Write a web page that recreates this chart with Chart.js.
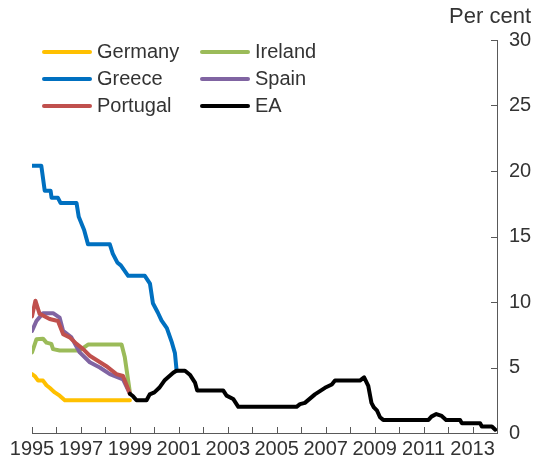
<!DOCTYPE html>
<html>
<head>
<meta charset="utf-8">
<script src="https://cdn.jsdelivr.net/npm/chart.js@4.4.0/dist/chart.umd.min.js"></script>
<style>
  html, body { margin: 0; padding: 0; background: #fff; }
  #wrap { position: relative; width: 535px; height: 468px; font-family: "Liberation Sans", Arial, sans-serif; color: #333; }
  #chart { position: absolute; left: 0; top: 0; }
  #unit { position: absolute; right: 4px; top: 3px; font-size: 22px; }
  #legend { position: absolute; left: 42px; top: 38px; display: grid; grid-template-columns: 158px auto; grid-auto-rows: 27px; font-size: 20px; }
  .item { display: flex; align-items: center; white-space: nowrap; }
  .swatch { width: 50px; height: 4px; margin-right: 5px; border-radius: 2px; }
</style>
</head>
<body>
<div id="wrap">
  <canvas id="chart" width="535" height="468"></canvas>
  <div id="unit">Per cent</div>
  <div id="legend"></div>
</div>
<script>
// Values (x = decimal year, y = per cent)
const germanyX = [1995.0, 1995.11, 1995.25, 1995.45, 1995.59, 1995.72, 1995.93, 1996.13, 1996.34, 1999.0];
const germanyY = [4.5, 4.35, 4.0, 4.0, 3.65, 3.45, 3.1, 2.85, 2.5, 2.5];

const greeceX = [1995.0, 1995.38, 1995.52, 1995.76, 1995.8, 1996.06, 1996.17, 1996.82, 1996.91, 1997.13, 1997.29,
  1998.18, 1998.3, 1998.49, 1998.63, 1998.93, 1999.61, 1999.82, 1999.94, 2000.14, 2000.29, 2000.51, 2000.7, 2000.84, 2000.91];
const greeceY = [20.4, 20.4, 18.5, 18.5, 17.95, 17.95, 17.55, 17.55, 16.5, 15.5, 14.4,
  14.4, 13.7, 13.0, 12.8, 12.0, 12.0, 11.4, 9.9, 9.2, 8.6, 8.0, 7.0, 6.1, 4.75];

const portugalX = [1995.0, 1995.14, 1995.31, 1995.72, 1996.06, 1996.27, 1996.54, 1996.82, 1997.09, 1997.36, 1997.7,
  1998.04, 1998.18, 1998.45, 1998.72, 1999.0];
const portugalY = [8.9, 10.1, 9.1, 8.7, 8.55, 7.55, 7.3, 6.8, 6.4, 5.9, 5.5, 5.1, 4.9, 4.5, 4.35, 3.0];

const irelandX = [1995.0, 1995.18, 1995.45, 1995.59, 1995.79, 1995.86, 1996.13, 1996.95, 1997.29, 1998.66, 1998.79, 1999.0];
const irelandY = [6.15, 7.15, 7.2, 6.9, 6.8, 6.4, 6.3, 6.3, 6.75, 6.75, 5.8, 3.1];

const spainX = [1995.0, 1995.18, 1995.45, 1995.86, 1996.13, 1996.27, 1996.61, 1996.95, 1997.36, 1997.77, 1998.18, 1998.72, 1999.0];
const spainY = [7.8, 8.55, 9.15, 9.15, 8.8, 7.8, 7.3, 6.15, 5.4, 5.0, 4.5, 4.1, 3.0];

const eaX = [1999.0, 1999.13, 1999.27, 1999.68, 1999.81, 2000.0, 2000.2, 2000.41, 2000.56, 2000.77, 2000.9, 2001.25,
  2001.45, 2001.66, 2001.75, 2002.81, 2002.95, 2003.22, 2003.43, 2005.81, 2005.95, 2006.15, 2006.56, 2006.97,
  2007.25, 2007.38, 2008.4, 2008.57, 2008.74, 2008.87, 2008.97, 2009.1, 2009.22, 2009.35, 2011.2, 2011.32,
  2011.52, 2011.74, 2011.92, 2012.49, 2012.56, 2013.31, 2013.38, 2013.79, 2013.93];
const eaY = [3.0, 2.8, 2.5, 2.5, 2.95, 3.1, 3.45, 4.0, 4.25, 4.6, 4.75, 4.75,
  4.45, 3.85, 3.25, 3.25, 2.85, 2.6, 2.0, 2.0, 2.2, 2.3, 2.95, 3.45,
  3.7, 4.0, 4.0, 4.25, 3.6, 2.3, 1.95, 1.7, 1.2, 1.0, 1.0, 1.25,
  1.45, 1.3, 1.0, 1.0, 0.75, 0.75, 0.5, 0.5, 0.25];

const yTicks = [0, 5, 10, 15, 20, 25, 30];
const xStart = 1995, xEnd = 2014;

const FONT = "'Liberation Sans', Arial, sans-serif";
const TEXT = '#333';
const AXIS = '#595959';

function pts(xs, ys) { return xs.map((x, i) => ({ x: x, y: ys[i] })); }

// legend order (two columns, as in the original)
const legendOrder = ['Germany', 'Ireland', 'Greece', 'Spain', 'Portugal', 'EA'];

// first dataset is drawn on top in Chart.js
const datasets = [
  { label: 'EA', data: pts(eaX, eaY), borderColor: '#000000' },
  { label: 'Greece', data: pts(greeceX, greeceY), borderColor: '#0070C0' },
  { label: 'Portugal', data: pts(portugalX, portugalY), borderColor: '#C0504D' },
  { label: 'Spain', data: pts(spainX, spainY), borderColor: '#8064A2' },
  { label: 'Ireland', data: pts(irelandX, irelandY), borderColor: '#9BBB59' },
  { label: 'Germany', data: pts(germanyX, germanyY), borderColor: '#FFC000' }
];

// tick marks pointing into the plot area
const innerTicks = {
  id: 'innerTicks',
  beforeDatasetsDraw(chart) {
    const { ctx, chartArea, scales: { x, y } } = chart;
    ctx.save();
    ctx.strokeStyle = AXIS;
    ctx.lineWidth = 1;
    ctx.beginPath();
    x.ticks.forEach(t => {
      const px = Math.round(x.getPixelForValue(t.value)) + 0.5;
      ctx.moveTo(px, chartArea.bottom);
      ctx.lineTo(px, chartArea.bottom - 6);
    });
    y.ticks.forEach(t => {
      const py = Math.round(y.getPixelForValue(t.value)) + 0.5;
      ctx.moveTo(chartArea.right, py);
      ctx.lineTo(chartArea.right - 6, py);
    });
    ctx.stroke();
    ctx.restore();
  }
};

const chart = new Chart(document.getElementById('chart'), {
  type: 'line',
  data: { datasets: datasets },
  options: {
    responsive: false,
    animation: false,
    layout: { padding: { left: 32, top: 40, right: 0, bottom: 0 } },
    elements: {
      point: { radius: 0 },
      line: { borderWidth: 4, tension: 0, fill: false, borderJoinStyle: 'round', borderCapStyle: 'round' }
    },
    plugins: {
      legend: { display: false },
      tooltip: { enabled: false }
    },
    scales: {
      x: {
        type: 'linear',
        min: xStart,
        max: xEnd,
        grid: { display: false, drawTicks: false },
        border: { display: true, color: AXIS, width: 1 },
        ticks: {
          stepSize: 1,
          autoSkip: false,
          maxRotation: 0,
          padding: 4,
          color: TEXT,
          font: { family: FONT, size: 20 },
          callback: v => (v % 2 === 1 ? String(v) : '')
        },
        afterFit: s => { s.height = 35; }
      },
      y: {
        position: 'right',
        min: 0,
        max: 30,
        grid: { display: false, drawTicks: false },
        border: { display: true, color: AXIS, width: 1 },
        afterBuildTicks: s => { s.ticks = yTicks.map(v => ({ value: v })); },
        ticks: {
          padding: 12,
          color: TEXT,
          font: { family: FONT, size: 20 }
        },
        afterFit: s => { s.width = 38; }
      }
    }
  },
  plugins: [innerTicks]
});

// HTML legend built from the datasets
const legend = document.getElementById('legend');
legendOrder.forEach(name => {
  const ds = datasets.find(d => d.label === name);
  const item = document.createElement('div');
  item.className = 'item';
  item.innerHTML = '<span class="swatch" style="background:' + ds.borderColor + '"></span>' + ds.label;
  legend.appendChild(item);
});
</script>
</body>
</html>
